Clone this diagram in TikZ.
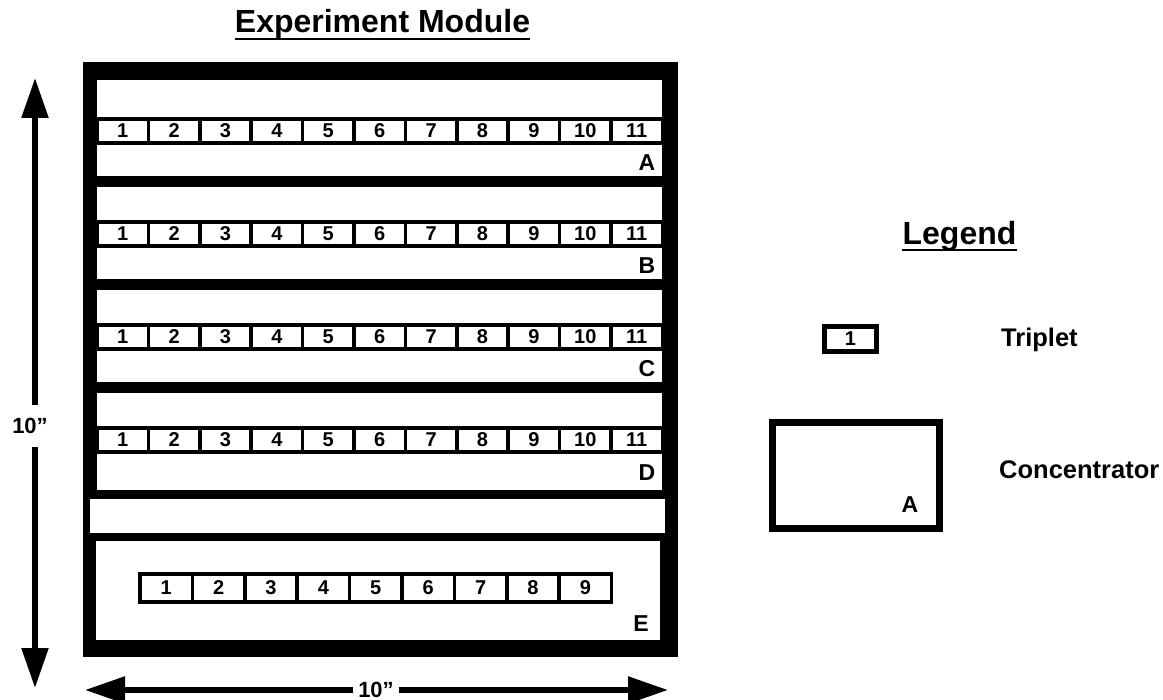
\documentclass[tikz,border=0pt]{standalone}
\usepackage{fontspec}
\setmainfont{Liberation Sans}
\usetikzlibrary{arrows.meta}
\begin{document}
\begin{tikzpicture}[x=1pt,y=-1pt,
  cell/.style={draw=black,line width=3.5pt,fill=white,minimum height=24pt,inner sep=0pt,
    font=\fontsize{20}{20}\selectfont\bfseries},
  lbl/.style={font=\fontsize{23}{23}\selectfont\bfseries,inner sep=0pt},
  ttl/.style={font=\fontsize{32}{32}\selectfont\bfseries,inner sep=0pt,anchor=base},
  legtxt/.style={font=\fontsize{25.5}{25.5}\selectfont\bfseries,inner sep=0pt,anchor=west},
  dimlbl/.style={font=\fontsize{22}{22}\selectfont\bfseries,inner sep=5pt},
  dimarr/.style={line width=5.5pt,-{Triangle[length=40pt,width=26pt]}},
  uline/.style={line width=2pt},
]
\useasboundingbox (0,0) rectangle (1163,700);
% title
\node[ttl] (title) at (382.5,33) {Experiment Module};
\draw[uline] ([yshift=-6pt]title.base west) -- ([yshift=-6pt]title.base east);
% module frame
\fill[black] (83,62) rectangle (678,657);
% concentrators
\fill[white] (97,80) rectangle (662,176);
\fill[white] (97,187) rectangle (662,279);
\fill[white] (97,290) rectangle (662,382);
\fill[white] (97,393) rectangle (662,490);
\fill[white] (90,499) rectangle (665,533);
\fill[white] (96,541) rectangle (660,640);
% triplet rows
\foreach \r/\y in {A/131,B/234,C/337,D/440}{
  \foreach \i in {1,...,11}{
    \node[cell,minimum width=51.4pt] (\r\i) at ({97+51.4*(\i-0.5)},\y) {\i};
  }
}
\foreach \i in {1,...,9}{
  \node[cell,minimum width=52.4pt,minimum height=28pt] (E\i) at ({140+52.4*(\i-0.5)},588) {\i};
}
% concentrator labels
\node[lbl] (labA) at (647,163) {A};
\node[lbl] (labB) at (647,266) {B};
\node[lbl] (labC) at (647,369) {C};
\node[lbl] (labD) at (647,473) {D};
\node[lbl] (labE) at (641,624) {E};
% legend
\node[ttl] (legend) at (959.5,245) {Legend};
\draw[uline] ([yshift=-5pt]legend.base west) -- ([yshift=-5pt]legend.base east);
\node[cell,line width=4.5pt,minimum width=52pt,minimum height=25pt] (legtrip) at (850.5,339) {1};
\node[legtxt] (trip) at (1001,340) {Triplet};
\draw[line width=7pt] (772.5,422.5) rectangle (939.5,528.5);
\node[lbl] (legA) at (910,505) {A};
\node[legtxt] (conc) at (999,470) {Concentrator};
% dimension arrows
\coordinate (vt) at (35,78);
\coordinate (vb) at (35,688);
\node[dimlbl,minimum height=42pt] (vl) at (30,426) {10”};
\draw[dimarr] (vl.north -| vt) -- (vt);
\draw[dimarr] (vl.south -| vb) -- (vb);
\coordinate (hlft) at (85,690);
\coordinate (hrgt) at (668,690);
\node[dimlbl] (hl) at (376,690) {10”};
\draw[dimarr] (hl.west) -- (hlft);
\draw[dimarr] (hl.east) -- (hrgt);
\end{tikzpicture}
\end{document}
